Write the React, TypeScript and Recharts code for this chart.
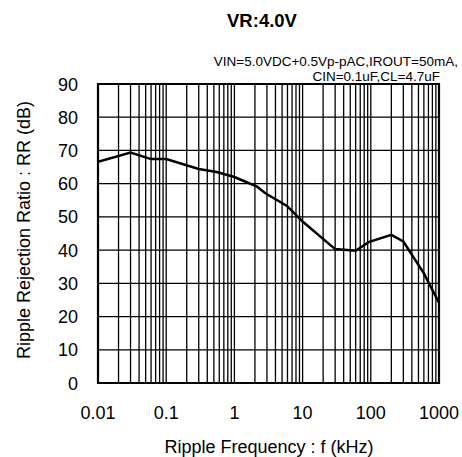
import React from "react";
import { LineChart, Line, XAxis, YAxis, CartesianGrid, ReferenceArea } from "recharts";

const freqKHz = [0.01, 0.03, 0.06, 0.1, 0.3, 0.55, 1, 2.15, 2.85, 5.9, 10, 30, 60, 93, 200, 300, 600, 1000];
const rrDb = [66.6, 69.4, 67.4, 67.4, 64.4, 63.5, 62, 59.1, 57.1, 53.3, 48.6, 40.3, 39.8, 42.4, 44.6, 42.6, 33, 24.2];
const decadeTicks = [0.01, 0.1, 1, 10, 100, 1000];
const minorMultipliers = [1, 2, 3, 4, 5, 6, 7, 8, 9];
const yTicks = [0, 10, 20, 30, 40, 50, 60, 70, 80, 90];
const titleText = "VR:4.0V";
const condLine1 = "VIN=5.0VDC+0.5Vp-pAC,IROUT=50mA,";
const condLine2 = "CIN=0.1uF,CL=4.7uF";
const xLabel = "Ripple Frequency : f (kHz)";
const yLabel = "Ripple Rejection Ratio : RR (dB)";

const data = freqKHz.map((f, i) => ({ f, rr: rrDb[i] }));
const allXTicks: number[] = [];
decadeTicks.slice(0, -1).forEach((d) => minorMultipliers.forEach((m) => allXTicks.push(+(d * m).toPrecision(6))));
allXTicks.push(decadeTicks[decadeTicks.length - 1]);

const FONT = "'Liberation Sans', Arial, sans-serif";

const XTick = (props: any) => {
  const { x, y, payload } = props;
  const v = payload.value;
  if (!decadeTicks.some((d) => Math.abs(d - v) / d < 1e-6)) return null;
  return (
    <text x={x} y={y + 28} textAnchor="middle" fontSize={18} fontFamily={FONT} fill="#000">
      {String(v)}
    </text>
  );
};

const YTick = (props: any) => {
  const { x, y, payload } = props;
  return (
    <text x={x - 12} y={y + 6.5} textAnchor="end" fontSize={18} fontFamily={FONT} fill="#000">
      {payload.value}
    </text>
  );
};

export default function App() {
  return (
    <div style={{ position: "absolute", left: 0, top: 0, width: 462, height: 457, background: "#fff" }}>
      <LineChart width={462} height={457} data={data} margin={{ top: 84, right: 23, bottom: 0, left: 0 }}>
        <CartesianGrid stroke="#000" strokeWidth={1.3} />
        <XAxis
          dataKey="f"
          type="number"
          scale="log"
          domain={[0.01, 1000]}
          ticks={allXTicks}
          interval={0}
          height={74}
          tick={<XTick />}
          tickLine={false}
          axisLine={false}
          allowDataOverflow
        />
        <YAxis
          type="number"
          domain={[0, 90]}
          ticks={yTicks}
          interval={0}
          width={98}
          tick={<YTick />}
          tickLine={false}
          axisLine={false}
        />
        <ReferenceArea x1={0.01} x2={1000} y1={0} y2={90} fill="none" stroke="#000" strokeWidth={2.2} ifOverflow="visible" />
        <Line dataKey="rr" stroke="#000" strokeWidth={2.5} dot={false} isAnimationActive={false} type="linear" />
      </LineChart>
      <svg width={462} height={457} style={{ position: "absolute", left: 0, top: 0, pointerEvents: "none" }} fontFamily={FONT}>
        <text x={262} y={27} textAnchor="middle" fontSize={18.5} fontWeight="bold" fill="#000">
          {titleText}
        </text>
        <text x={458} y={66} textAnchor="end" fontSize={13.5} fill="#000">
          {condLine1}
        </text>
        <text x={440} y={80.5} textAnchor="end" fontSize={13.5} fill="#000">
          {condLine2}
        </text>
        <text x={269} y={453} textAnchor="middle" fontSize={18} fill="#000">
          {xLabel}
        </text>
        <text x={30} y={230} textAnchor="middle" fontSize={18} fill="#000" transform="rotate(-90 30 230)">
          {yLabel}
        </text>
      </svg>
    </div>
  );
}
